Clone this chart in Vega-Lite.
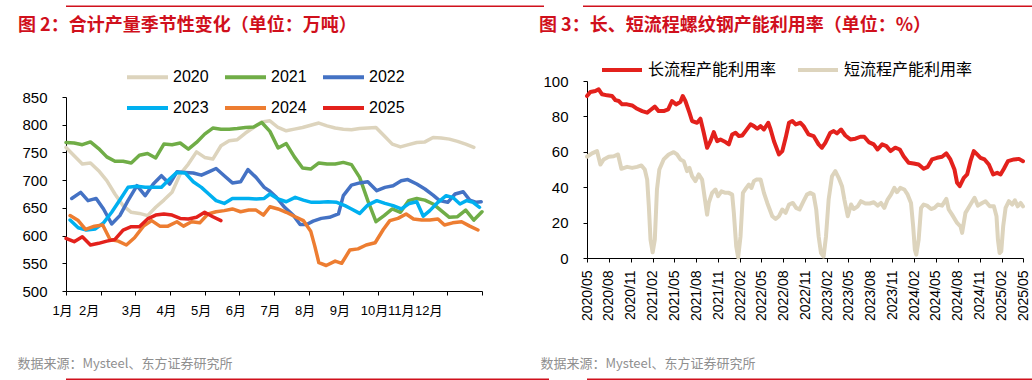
{
"$schema": "https://vega.github.io/schema/vega-lite/v6.json",
"padding": {"left": 17, "top": 5.5, "right": 0, "bottom": 0},
"spacing": 8.5,
"background": "white",
"config": {
  "view": {"stroke": null},
  "axis": {"grid": false, "domainColor": "#000", "tickColor": "#000", "labelColor": "#000", "labelFont": "Liberation Sans, Noto Sans CJK SC", "domainWidth": 1, "tickWidth": 1},
  "title": {"font": "Noto Sans CJK SC", "fontWeight": "bold", "fontSize": 18, "color": "#D0101C"}
},
"datasets": {
  "empty": [],
  "seasonal": [
    {"year":"2020","wk":1,"v":759},{"year":"2020","wk":2,"v":744},{"year":"2020","wk":3,"v":729},{"year":"2020","wk":4,"v":731},{"year":"2020","wk":5,"v":717},{"year":"2020","wk":6,"v":699},{"year":"2020","wk":7,"v":675},{"year":"2020","wk":8,"v":654},{"year":"2020","wk":9,"v":642},{"year":"2020","wk":10,"v":640},{"year":"2020","wk":11,"v":636},{"year":"2020","wk":12,"v":651},{"year":"2020","wk":13,"v":664},{"year":"2020","wk":14,"v":678},{"year":"2020","wk":15,"v":711},{"year":"2020","wk":16,"v":729},{"year":"2020","wk":17,"v":751},{"year":"2020","wk":18,"v":741},{"year":"2020","wk":19,"v":738},{"year":"2020","wk":20,"v":762},{"year":"2020","wk":21,"v":771},{"year":"2020","wk":22,"v":773},{"year":"2020","wk":23,"v":785},{"year":"2020","wk":24,"v":795},{"year":"2020","wk":25,"v":805},{"year":"2020","wk":26,"v":807},{"year":"2020","wk":27,"v":795},{"year":"2020","wk":28,"v":789},{"year":"2020","wk":29,"v":792},{"year":"2020","wk":30,"v":795},{"year":"2020","wk":31,"v":799},{"year":"2020","wk":32,"v":803},{"year":"2020","wk":33,"v":798},{"year":"2020","wk":34,"v":794},{"year":"2020","wk":35,"v":792},{"year":"2020","wk":36,"v":791},{"year":"2020","wk":37,"v":793},{"year":"2020","wk":38,"v":794},{"year":"2020","wk":39,"v":795},{"year":"2020","wk":40,"v":780},{"year":"2020","wk":41,"v":765},{"year":"2020","wk":42,"v":760},{"year":"2020","wk":43,"v":764},{"year":"2020","wk":44,"v":768},{"year":"2020","wk":45,"v":769},{"year":"2020","wk":46,"v":777},{"year":"2020","wk":47,"v":776},{"year":"2020","wk":48,"v":774},{"year":"2020","wk":49,"v":770},{"year":"2020","wk":50,"v":765},{"year":"2020","wk":51,"v":759},
    {"year":"2021","wk":1,"v":768},{"year":"2021","wk":2,"v":767},{"year":"2021","wk":3,"v":764},{"year":"2021","wk":4,"v":769},{"year":"2021","wk":5,"v":757},{"year":"2021","wk":6,"v":742},{"year":"2021","wk":7,"v":734},{"year":"2021","wk":8,"v":734},{"year":"2021","wk":9,"v":731},{"year":"2021","wk":10,"v":745},{"year":"2021","wk":11,"v":748},{"year":"2021","wk":12,"v":740},{"year":"2021","wk":13,"v":765},{"year":"2021","wk":14,"v":764},{"year":"2021","wk":15,"v":767},{"year":"2021","wk":16,"v":756},{"year":"2021","wk":17,"v":768},{"year":"2021","wk":18,"v":783},{"year":"2021","wk":19,"v":794},{"year":"2021","wk":20,"v":792},{"year":"2021","wk":21,"v":792},{"year":"2021","wk":22,"v":793},{"year":"2021","wk":23,"v":795},{"year":"2021","wk":24,"v":796},{"year":"2021","wk":25,"v":804},{"year":"2021","wk":26,"v":788},{"year":"2021","wk":27,"v":758},{"year":"2021","wk":28,"v":766},{"year":"2021","wk":29,"v":742},{"year":"2021","wk":30,"v":722},{"year":"2021","wk":31,"v":720},{"year":"2021","wk":32,"v":731},{"year":"2021","wk":33,"v":729},{"year":"2021","wk":34,"v":729},{"year":"2021","wk":35,"v":732},{"year":"2021","wk":36,"v":728},{"year":"2021","wk":37,"v":705},{"year":"2021","wk":38,"v":663},{"year":"2021","wk":39,"v":625},{"year":"2021","wk":40,"v":636},{"year":"2021","wk":41,"v":648},{"year":"2021","wk":42,"v":642},{"year":"2021","wk":43,"v":663},{"year":"2021","wk":44,"v":667},{"year":"2021","wk":45,"v":664},{"year":"2021","wk":46,"v":657},{"year":"2021","wk":47,"v":645},{"year":"2021","wk":48,"v":633},{"year":"2021","wk":49,"v":634},{"year":"2021","wk":50,"v":646},{"year":"2021","wk":51,"v":628},{"year":"2021","wk":52,"v":643},
    {"year":"2022","wk":1.7,"v":667},{"year":"2022","wk":2.8,"v":678},{"year":"2022","wk":3.7,"v":663},{"year":"2022","wk":4.7,"v":667},{"year":"2022","wk":5.6,"v":648},{"year":"2022","wk":6.6,"v":621},{"year":"2022","wk":7.6,"v":636},{"year":"2022","wk":8.6,"v":663},{"year":"2022","wk":9.7,"v":690},{"year":"2022","wk":10.7,"v":672},{"year":"2022","wk":11.7,"v":693},{"year":"2022","wk":12.7,"v":708},{"year":"2022","wk":13.7,"v":693},{"year":"2022","wk":14.6,"v":715},{"year":"2022","wk":15.6,"v":714},{"year":"2022","wk":16.6,"v":713},{"year":"2022","wk":17.6,"v":709},{"year":"2022","wk":18.5,"v":715},{"year":"2022","wk":19.4,"v":721},{"year":"2022","wk":20.4,"v":708},{"year":"2022","wk":21.4,"v":695},{"year":"2022","wk":22.4,"v":697},{"year":"2022","wk":23.3,"v":719},{"year":"2022","wk":24.3,"v":705},{"year":"2022","wk":25.3,"v":687},{"year":"2022","wk":26,"v":680},{"year":"2022","wk":26.8,"v":669},{"year":"2022","wk":27.8,"v":651},{"year":"2022","wk":28.9,"v":636},{"year":"2022","wk":29.7,"v":620},{"year":"2022","wk":30.5,"v":620},{"year":"2022","wk":31.3,"v":626},{"year":"2022","wk":32.3,"v":631},{"year":"2022","wk":33.3,"v":633},{"year":"2022","wk":34.4,"v":639},{"year":"2022","wk":35,"v":672},{"year":"2022","wk":36,"v":691},{"year":"2022","wk":37,"v":695},{"year":"2022","wk":38,"v":697},{"year":"2022","wk":39.1,"v":681},{"year":"2022","wk":40.1,"v":687},{"year":"2022","wk":41.1,"v":690},{"year":"2022","wk":42.1,"v":699},{"year":"2022","wk":42.9,"v":701},{"year":"2022","wk":44,"v":693},{"year":"2022","wk":45,"v":684},{"year":"2022","wk":46,"v":673},{"year":"2022","wk":46.8,"v":663},{"year":"2022","wk":47.8,"v":660},{"year":"2022","wk":48.7,"v":675},{"year":"2022","wk":49.7,"v":679},{"year":"2022","wk":50.5,"v":664},{"year":"2022","wk":51.3,"v":660},{"year":"2022","wk":51.9,"v":661},
    {"year":"2023","wk":1.5,"v":628},{"year":"2023","wk":2.5,"v":614},{"year":"2023","wk":3.5,"v":610},{"year":"2023","wk":4.6,"v":612},{"year":"2023","wk":5.6,"v":623},{"year":"2023","wk":6.6,"v":642},{"year":"2023","wk":7.6,"v":664},{"year":"2023","wk":8.6,"v":687},{"year":"2023","wk":9.7,"v":689},{"year":"2023","wk":10.7,"v":687},{"year":"2023","wk":11.7,"v":687},{"year":"2023","wk":12.7,"v":687},{"year":"2023","wk":13.7,"v":702},{"year":"2023","wk":14.6,"v":714},{"year":"2023","wk":15.6,"v":713},{"year":"2023","wk":16.6,"v":697},{"year":"2023","wk":17.6,"v":687},{"year":"2023","wk":18.5,"v":675},{"year":"2023","wk":19.4,"v":663},{"year":"2023","wk":20.4,"v":658},{"year":"2023","wk":21.4,"v":667},{"year":"2023","wk":22.4,"v":667},{"year":"2023","wk":23.4,"v":667},{"year":"2023","wk":24.3,"v":666},{"year":"2023","wk":25.3,"v":667},{"year":"2023","wk":26,"v":675},{"year":"2023","wk":27,"v":666},{"year":"2023","wk":28,"v":661},{"year":"2023","wk":29.1,"v":669},{"year":"2023","wk":30.1,"v":664},{"year":"2023","wk":31.1,"v":660},{"year":"2023","wk":32.1,"v":660},{"year":"2023","wk":33.1,"v":661},{"year":"2023","wk":34.2,"v":660},{"year":"2023","wk":35.2,"v":654},{"year":"2023","wk":36,"v":648},{"year":"2023","wk":37,"v":640},{"year":"2023","wk":38,"v":655},{"year":"2023","wk":39.1,"v":663},{"year":"2023","wk":40.1,"v":658},{"year":"2023","wk":41.1,"v":654},{"year":"2023","wk":42.1,"v":648},{"year":"2023","wk":43.1,"v":658},{"year":"2023","wk":44,"v":661},{"year":"2023","wk":44.8,"v":635},{"year":"2023","wk":45.6,"v":645},{"year":"2023","wk":46.6,"v":660},{"year":"2023","wk":47.6,"v":672},{"year":"2023","wk":48.4,"v":669},{"year":"2023","wk":49.3,"v":657},{"year":"2023","wk":50.1,"v":663},{"year":"2023","wk":50.9,"v":660},{"year":"2023","wk":51.7,"v":651},
    {"year":"2024","wk":1.5,"v":636},{"year":"2024","wk":2.5,"v":627},{"year":"2024","wk":3.4,"v":611},{"year":"2024","wk":4.5,"v":617},{"year":"2024","wk":5.5,"v":619},{"year":"2024","wk":6.4,"v":593},{"year":"2024","wk":7.4,"v":590},{"year":"2024","wk":8.4,"v":583},{"year":"2024","wk":9.4,"v":596},{"year":"2024","wk":10.5,"v":617},{"year":"2024","wk":11.5,"v":627},{"year":"2024","wk":12.5,"v":617},{"year":"2024","wk":13.5,"v":617},{"year":"2024","wk":14.6,"v":625},{"year":"2024","wk":15.4,"v":617},{"year":"2024","wk":16.4,"v":625},{"year":"2024","wk":17.4,"v":623},{"year":"2024","wk":18.4,"v":639},{"year":"2024","wk":19.4,"v":643},{"year":"2024","wk":20.4,"v":645},{"year":"2024","wk":21.4,"v":648},{"year":"2024","wk":22.4,"v":643},{"year":"2024","wk":23.4,"v":646},{"year":"2024","wk":24.3,"v":646},{"year":"2024","wk":25.2,"v":637},{"year":"2024","wk":26,"v":652},{"year":"2024","wk":27,"v":648},{"year":"2024","wk":28,"v":642},{"year":"2024","wk":29.1,"v":634},{"year":"2024","wk":30.1,"v":627},{"year":"2024","wk":31,"v":608},{"year":"2024","wk":31.5,"v":581},{"year":"2024","wk":32,"v":551},{"year":"2024","wk":32.9,"v":546},{"year":"2024","wk":34,"v":554},{"year":"2024","wk":34.8,"v":550},{"year":"2024","wk":35.8,"v":574},{"year":"2024","wk":36.8,"v":576},{"year":"2024","wk":37.8,"v":583},{"year":"2024","wk":38.9,"v":587},{"year":"2024","wk":39.9,"v":611},{"year":"2024","wk":40.7,"v":627},{"year":"2024","wk":41.7,"v":631},{"year":"2024","wk":42.7,"v":639},{"year":"2024","wk":43.6,"v":630},{"year":"2024","wk":44.6,"v":628},{"year":"2024","wk":45.6,"v":628},{"year":"2024","wk":46.6,"v":630},{"year":"2024","wk":47.4,"v":619},{"year":"2024","wk":48.4,"v":623},{"year":"2024","wk":49.5,"v":625},{"year":"2024","wk":50.5,"v":617},{"year":"2024","wk":51.5,"v":610},
    {"year":"2025","wk":1,"v":595},{"year":"2025","wk":2,"v":589},{"year":"2025","wk":3,"v":598},{"year":"2025","wk":4,"v":583},{"year":"2025","wk":5,"v":586},{"year":"2025","wk":6,"v":590},{"year":"2025","wk":7,"v":593},{"year":"2025","wk":8,"v":610},{"year":"2025","wk":9,"v":616},{"year":"2025","wk":10,"v":616},{"year":"2025","wk":11,"v":630},{"year":"2025","wk":12,"v":637},{"year":"2025","wk":13,"v":639},{"year":"2025","wk":14,"v":637},{"year":"2025","wk":15,"v":631},{"year":"2025","wk":16,"v":630},{"year":"2025","wk":17,"v":633},{"year":"2025","wk":18,"v":642},{"year":"2025","wk":19,"v":634},{"year":"2025","wk":20,"v":627}
  ],
  "util": [
    {"s":"长流程产能利用率","d":"2020-05-01","v":91.5},{"s":"长流程产能利用率","d":"2020-05-15","v":93.8},{"s":"长流程产能利用率","d":"2020-06-05","v":94.3},{"s":"长流程产能利用率","d":"2020-06-19","v":95.3},{"s":"长流程产能利用率","d":"2020-07-03","v":92.5},{"s":"长流程产能利用率","d":"2020-07-24","v":91.9},{"s":"长流程产能利用率","d":"2020-08-14","v":91.5},{"s":"长流程产能利用率","d":"2020-08-28","v":89.2},{"s":"长流程产能利用率","d":"2020-09-11","v":88.7},{"s":"长流程产能利用率","d":"2020-09-25","v":86.8},{"s":"长流程产能利用率","d":"2020-10-16","v":86.8},{"s":"长流程产能利用率","d":"2020-11-06","v":86.2},{"s":"长流程产能利用率","d":"2020-11-27","v":84.3},{"s":"长流程产能利用率","d":"2020-12-18","v":83.0},{"s":"长流程产能利用率","d":"2021-01-08","v":82.1},{"s":"长流程产能利用率","d":"2021-01-22","v":83.6},{"s":"长流程产能利用率","d":"2021-02-09","v":85.5},{"s":"长流程产能利用率","d":"2021-02-25","v":83.0},{"s":"长流程产能利用率","d":"2021-03-18","v":83.0},{"s":"长流程产能利用率","d":"2021-04-06","v":84.0},{"s":"长流程产能利用率","d":"2021-04-22","v":88.7},{"s":"长流程产能利用率","d":"2021-05-09","v":86.8},{"s":"长流程产能利用率","d":"2021-05-27","v":88.1},{"s":"长流程产能利用率","d":"2021-06-06","v":91.5},{"s":"长流程产能利用率","d":"2021-06-17","v":88.7},{"s":"长流程产能利用率","d":"2021-07-04","v":82.1},{"s":"长流程产能利用率","d":"2021-07-15","v":77.4},{"s":"长流程产能利用率","d":"2021-08-05","v":76.4},{"s":"长流程产能利用率","d":"2021-08-19","v":78.7},{"s":"长流程产能利用率","d":"2021-09-02","v":70.8},{"s":"长流程产能利用率","d":"2021-09-16","v":62.3},{"s":"长流程产能利用率","d":"2021-09-30","v":66.0},{"s":"长流程产能利用率","d":"2021-10-14","v":71.1},{"s":"长流程产能利用率","d":"2021-10-28","v":66.0},{"s":"长流程产能利用率","d":"2021-11-11","v":67.0},{"s":"长流程产能利用率","d":"2021-12-02","v":65.5},{"s":"长流程产能利用率","d":"2021-12-16","v":64.2},{"s":"长流程产能利用率","d":"2021-12-30","v":69.8},{"s":"长流程产能利用率","d":"2022-01-13","v":70.8},{"s":"长流程产能利用率","d":"2022-01-27","v":68.9},{"s":"长流程产能利用率","d":"2022-02-10","v":69.2},{"s":"长流程产能利用率","d":"2022-02-24","v":71.7},{"s":"长流程产能利用率","d":"2022-03-17","v":75.5},{"s":"长流程产能利用率","d":"2022-03-31","v":74.5},{"s":"长流程产能利用率","d":"2022-04-14","v":73.0},{"s":"长流程产能利用率","d":"2022-04-28","v":74.5},{"s":"长流程产能利用率","d":"2022-05-12","v":72.6},{"s":"长流程产能利用率","d":"2022-05-30","v":76.4},{"s":"长流程产能利用率","d":"2022-06-09","v":72.6},{"s":"长流程产能利用率","d":"2022-06-23","v":66.0},{"s":"长流程产能利用率","d":"2022-07-14","v":58.5},{"s":"长流程产能利用率","d":"2022-07-28","v":60.4},{"s":"长流程产能利用率","d":"2022-08-11","v":67.9},{"s":"长流程产能利用率","d":"2022-08-25","v":76.4},{"s":"长流程产能利用率","d":"2022-09-08","v":77.4},{"s":"长流程产能利用率","d":"2022-09-22","v":75.5},{"s":"长流程产能利用率","d":"2022-10-12","v":76.4},{"s":"长流程产能利用率","d":"2022-10-25","v":74.5},{"s":"长流程产能利用率","d":"2022-11-15","v":69.8},{"s":"长流程产能利用率","d":"2022-12-06","v":68.9},{"s":"长流程产能利用率","d":"2022-12-27","v":64.2},{"s":"长流程产能利用率","d":"2023-01-10","v":62.3},{"s":"长流程产能利用率","d":"2023-01-24","v":65.1},{"s":"长流程产能利用率","d":"2023-02-14","v":70.8},{"s":"长流程产能利用率","d":"2023-02-28","v":71.7},{"s":"长流程产能利用率","d":"2023-03-14","v":70.4},{"s":"长流程产能利用率","d":"2023-03-31","v":72.6},{"s":"长流程产能利用率","d":"2023-04-18","v":69.2},{"s":"长流程产能利用率","d":"2023-05-09","v":67.0},{"s":"长流程产能利用率","d":"2023-05-30","v":67.4},{"s":"长流程产能利用率","d":"2023-06-20","v":68.5},{"s":"长流程产能利用率","d":"2023-07-06","v":68.5},{"s":"长流程产能利用率","d":"2023-07-25","v":65.5},{"s":"长流程产能利用率","d":"2023-08-15","v":64.2},{"s":"长流程产能利用率","d":"2023-08-31","v":61.3},{"s":"长流程产能利用率","d":"2023-09-19","v":64.2},{"s":"长流程产能利用率","d":"2023-10-07","v":63.2},{"s":"长流程产能利用率","d":"2023-10-24","v":60.4},{"s":"长流程产能利用率","d":"2023-11-13","v":62.3},{"s":"长流程产能利用率","d":"2023-12-02","v":61.3},{"s":"长流程产能利用率","d":"2023-12-18","v":57.5},{"s":"长流程产能利用率","d":"2024-01-08","v":53.8},{"s":"长流程产能利用率","d":"2024-01-29","v":53.4},{"s":"长流程产能利用率","d":"2024-02-19","v":52.8},{"s":"长流程产能利用率","d":"2024-03-11","v":50.4},{"s":"长流程产能利用率","d":"2024-03-28","v":51.5},{"s":"长流程产能利用率","d":"2024-04-15","v":55.7},{"s":"长流程产能利用率","d":"2024-05-06","v":56.6},{"s":"长流程产能利用率","d":"2024-05-27","v":57.2},{"s":"长流程产能利用率","d":"2024-06-14","v":59.1},{"s":"长流程产能利用率","d":"2024-07-01","v":55.7},{"s":"长流程产能利用率","d":"2024-07-18","v":50.0},{"s":"长流程产能利用率","d":"2024-07-29","v":42.5},{"s":"长流程产能利用率","d":"2024-08-09","v":40.6},{"s":"长流程产能利用率","d":"2024-08-26","v":45.3},{"s":"长流程产能利用率","d":"2024-09-09","v":47.2},{"s":"长流程产能利用率","d":"2024-09-23","v":54.7},{"s":"长流程产能利用率","d":"2024-10-07","v":60.4},{"s":"长流程产能利用率","d":"2024-10-21","v":58.5},{"s":"长流程产能利用率","d":"2024-11-04","v":56.6},{"s":"长流程产能利用率","d":"2024-11-21","v":55.7},{"s":"长流程产能利用率","d":"2024-12-09","v":52.8},{"s":"长流程产能利用率","d":"2024-12-27","v":47.2},{"s":"长流程产能利用率","d":"2025-01-13","v":48.1},{"s":"长流程产能利用率","d":"2025-01-27","v":47.2},{"s":"长流程产能利用率","d":"2025-02-10","v":50.4},{"s":"长流程产能利用率","d":"2025-02-27","v":54.7},{"s":"长流程产能利用率","d":"2025-03-24","v":55.7},{"s":"长流程产能利用率","d":"2025-04-14","v":56.0},{"s":"长流程产能利用率","d":"2025-05-01","v":54.7},
    {"s":"短流程产能利用率","d":"2020-05-01","v":57.2},{"s":"短流程产能利用率","d":"2020-05-22","v":59.1},{"s":"短流程产能利用率","d":"2020-06-12","v":60.4},{"s":"短流程产能利用率","d":"2020-06-26","v":52.8},{"s":"短流程产能利用率","d":"2020-07-10","v":55.7},{"s":"短流程产能利用率","d":"2020-07-31","v":57.2},{"s":"短流程产能利用率","d":"2020-08-21","v":57.5},{"s":"短流程产能利用率","d":"2020-09-08","v":58.5},{"s":"短流程产能利用率","d":"2020-09-22","v":50.4},{"s":"短流程产能利用率","d":"2020-10-16","v":51.5},{"s":"短流程产能利用率","d":"2020-11-06","v":50.9},{"s":"短流程产能利用率","d":"2020-11-27","v":51.5},{"s":"短流程产能利用率","d":"2020-12-15","v":52.3},{"s":"短流程产能利用率","d":"2020-12-29","v":50.0},{"s":"短流程产能利用率","d":"2021-01-08","v":44.3},{"s":"短流程产能利用率","d":"2021-01-15","v":29.2},{"s":"短流程产能利用率","d":"2021-01-22","v":10.4},{"s":"短流程产能利用率","d":"2021-01-31","v":3.2},{"s":"短流程产能利用率","d":"2021-02-09","v":10.4},{"s":"短流程产能利用率","d":"2021-02-18","v":38.7},{"s":"短流程产能利用率","d":"2021-02-28","v":50.0},{"s":"短流程产能利用率","d":"2021-03-18","v":55.7},{"s":"短流程产能利用率","d":"2021-04-08","v":58.5},{"s":"短流程产能利用率","d":"2021-04-29","v":59.8},{"s":"短流程产能利用率","d":"2021-05-13","v":58.5},{"s":"短流程产能利用率","d":"2021-05-27","v":55.7},{"s":"短流程产能利用率","d":"2021-06-10","v":54.7},{"s":"短流程产能利用率","d":"2021-06-24","v":49.1},{"s":"短流程产能利用率","d":"2021-07-04","v":50.9},{"s":"短流程产能利用率","d":"2021-07-15","v":46.2},{"s":"短流程产能利用率","d":"2021-07-29","v":43.4},{"s":"短流程产能利用率","d":"2021-08-12","v":47.2},{"s":"短流程产能利用率","d":"2021-08-26","v":44.3},{"s":"短流程产能利用率","d":"2021-09-09","v":31.1},{"s":"短流程产能利用率","d":"2021-09-16","v":24.5},{"s":"短流程产能利用率","d":"2021-09-23","v":31.1},{"s":"短流程产能利用率","d":"2021-10-07","v":36.8},{"s":"短流程产能利用率","d":"2021-10-21","v":38.7},{"s":"短流程产能利用率","d":"2021-11-01","v":34.9},{"s":"短流程产能利用率","d":"2021-11-15","v":37.7},{"s":"短流程产能利用率","d":"2021-12-02","v":36.8},{"s":"短流程产能利用率","d":"2021-12-16","v":36.8},{"s":"短流程产能利用率","d":"2021-12-30","v":35.8},{"s":"短流程产能利用率","d":"2022-01-06","v":25.5},{"s":"短流程产能利用率","d":"2022-01-16","v":6.6},{"s":"短流程产能利用率","d":"2022-01-24","v":0.3},{"s":"短流程产能利用率","d":"2022-02-03","v":12.3},{"s":"短流程产能利用率","d":"2022-02-13","v":36.8},{"s":"短流程产能利用率","d":"2022-02-27","v":39.6},{"s":"短流程产能利用率","d":"2022-03-10","v":41.5},{"s":"短流程产能利用率","d":"2022-03-21","v":39.6},{"s":"短流程产能利用率","d":"2022-03-31","v":43.4},{"s":"短流程产能利用率","d":"2022-04-10","v":44.3},{"s":"短流程产能利用率","d":"2022-04-28","v":44.3},{"s":"短流程产能利用率","d":"2022-05-12","v":36.8},{"s":"短流程产能利用率","d":"2022-05-26","v":31.1},{"s":"短流程产能利用率","d":"2022-06-16","v":23.6},{"s":"短流程产能利用率","d":"2022-06-30","v":22.1},{"s":"短流程产能利用率","d":"2022-07-14","v":23.6},{"s":"短流程产能利用率","d":"2022-07-28","v":27.4},{"s":"短流程产能利用率","d":"2022-08-11","v":25.5},{"s":"短流程产能利用率","d":"2022-08-25","v":30.2},{"s":"短流程产能利用率","d":"2022-09-10","v":31.1},{"s":"短流程产能利用率","d":"2022-09-24","v":28.3},{"s":"短流程产能利用率","d":"2022-10-08","v":27.4},{"s":"短流程产能利用率","d":"2022-10-25","v":32.1},{"s":"短流程产能利用率","d":"2022-11-08","v":35.8},{"s":"短流程产能利用率","d":"2022-11-22","v":36.8},{"s":"短流程产能利用率","d":"2022-12-06","v":35.8},{"s":"短流程产能利用率","d":"2022-12-17","v":27.4},{"s":"短流程产能利用率","d":"2022-12-27","v":12.3},{"s":"短流程产能利用率","d":"2023-01-06","v":2.8},{"s":"短流程产能利用率","d":"2023-01-17","v":0.9},{"s":"短流程产能利用率","d":"2023-01-27","v":12.3},{"s":"短流程产能利用率","d":"2023-02-07","v":33.0},{"s":"短流程产能利用率","d":"2023-02-21","v":46.2},{"s":"短流程产能利用率","d":"2023-03-07","v":49.1},{"s":"短流程产能利用率","d":"2023-03-21","v":45.3},{"s":"短流程产能利用率","d":"2023-04-04","v":40.6},{"s":"短流程产能利用率","d":"2023-04-14","v":33.0},{"s":"短流程产能利用率","d":"2023-04-28","v":23.6},{"s":"短流程产能利用率","d":"2023-05-12","v":30.2},{"s":"短流程产能利用率","d":"2023-05-23","v":27.7},{"s":"短流程产能利用率","d":"2023-06-09","v":29.2},{"s":"短流程产能利用率","d":"2023-06-22","v":32.1},{"s":"短流程产能利用率","d":"2023-07-11","v":30.8},{"s":"短流程产能利用率","d":"2023-07-29","v":30.8},{"s":"短流程产能利用率","d":"2023-08-15","v":31.5},{"s":"短流程产能利用率","d":"2023-08-31","v":29.6},{"s":"短流程产能利用率","d":"2023-09-14","v":31.1},{"s":"短流程产能利用率","d":"2023-09-28","v":28.3},{"s":"短流程产能利用率","d":"2023-10-12","v":33.0},{"s":"短流程产能利用率","d":"2023-10-26","v":35.8},{"s":"短流程产能利用率","d":"2023-11-09","v":39.6},{"s":"短流程产能利用率","d":"2023-11-20","v":37.2},{"s":"短流程产能利用率","d":"2023-12-04","v":39.6},{"s":"短流程产能利用率","d":"2023-12-21","v":38.7},{"s":"短流程产能利用率","d":"2024-01-04","v":35.8},{"s":"短流程产能利用率","d":"2024-01-18","v":31.1},{"s":"短流程产能利用率","d":"2024-01-27","v":17.9},{"s":"短流程产能利用率","d":"2024-02-03","v":4.7},{"s":"短流程产能利用率","d":"2024-02-09","v":1.9},{"s":"短流程产能利用率","d":"2024-02-19","v":10.4},{"s":"短流程产能利用率","d":"2024-02-29","v":28.3},{"s":"短流程产能利用率","d":"2024-03-11","v":30.2},{"s":"短流程产能利用率","d":"2024-03-25","v":29.6},{"s":"短流程产能利用率","d":"2024-04-11","v":27.7},{"s":"短流程产能利用率","d":"2024-04-25","v":28.3},{"s":"短流程产能利用率","d":"2024-05-09","v":30.2},{"s":"短流程产能利用率","d":"2024-05-27","v":29.6},{"s":"短流程产能利用率","d":"2024-06-14","v":33.4},{"s":"短流程产能利用率","d":"2024-06-24","v":27.4},{"s":"短流程产能利用率","d":"2024-07-08","v":24.5},{"s":"短流程产能利用率","d":"2024-07-29","v":19.8},{"s":"短流程产能利用率","d":"2024-08-12","v":17.9},{"s":"短流程产能利用率","d":"2024-08-19","v":14.2},{"s":"短流程产能利用率","d":"2024-09-02","v":25.5},{"s":"短流程产能利用率","d":"2024-09-23","v":30.2},{"s":"短流程产能利用率","d":"2024-10-10","v":34.0},{"s":"短流程产能利用率","d":"2024-10-24","v":29.6},{"s":"短流程产能利用率","d":"2024-11-11","v":31.1},{"s":"短流程产能利用率","d":"2024-11-25","v":32.1},{"s":"短流程产能利用率","d":"2024-12-13","v":29.2},{"s":"短流程产能利用率","d":"2024-12-30","v":29.2},{"s":"短流程产能利用率","d":"2025-01-10","v":23.6},{"s":"短流程产能利用率","d":"2025-01-16","v":10.4},{"s":"短流程产能利用率","d":"2025-01-23","v":2.8},{"s":"短流程产能利用率","d":"2025-01-30","v":3.8},{"s":"短流程产能利用率","d":"2025-02-07","v":17.9},{"s":"短流程产能利用率","d":"2025-02-17","v":28.3},{"s":"短流程产能利用率","d":"2025-03-03","v":32.1},{"s":"短流程产能利用率","d":"2025-03-17","v":30.2},{"s":"短流程产能利用率","d":"2025-03-28","v":32.6},{"s":"短流程产能利用率","d":"2025-04-09","v":29.2},{"s":"短流程产能利用率","d":"2025-04-21","v":31.1},{"s":"短流程产能利用率","d":"2025-05-01","v":29.2}
  ]
},
"vconcat": [
  {
    "spacing": 39,
    "hconcat": [
      {"width": 478, "height": 1.5, "view": {"fill": "#D0101C", "stroke": null}, "data": {"name": "empty"}, "mark": "point"},
      {"width": 484, "height": 1.5, "view": {"fill": "#D0101C", "stroke": null}, "data": {"name": "empty"}, "mark": "point"}
    ]
  },
  {
    "spacing": 55,
    "resolve": {"scale": {"color": "independent", "x": "independent", "y": "independent"}, "legend": {"color": "independent"}},
    "hconcat": [
      {
        "width": 416, "height": 194,
        "title": {"text": "图 2：合计产量季节性变化（单位：万吨）", "anchor": "start", "frame": "group", "dx": -48, "offset": 20},
        "data": {"name": "seasonal"},
        "mark": {"type": "line", "strokeWidth": 3.5, "strokeJoin": "round", "strokeCap": "round"},
        "encoding": {
          "x": {"field": "wk", "type": "quantitative", "scale": {"domain": [1, 52], "nice": false, "zero": false},
            "axis": {"values": [1, 5.25, 9.5, 13.75, 18, 22.25, 26.5, 30.75, 35, 39.25, 43.5, 47.75, 52],
              "labelExpr": "datum.value >= 51 ? '' : (round((datum.value - 1) / 4.25) + 1) + '月'",
              "labelFontSize": 13,
              "labelOffset": {"condition": [{"test": "datum.value == 5.25", "value": -12}, {"test": "datum.value == 43.5", "value": -12}, {"test": "datum.value == 47.75", "value": -19}], "value": -4},
              "labelFlush": false, "labelOverlap": false, "tickSize": 4, "labelPadding": 9,
              "title": "数据来源：Mysteel、东方证券研究所", "titleX": -49, "titleY": 72, "titleAlign": "left", "titleAnchor": "start", "titleBaseline": "middle",
              "titleFontSize": 13, "titleFontWeight": "normal", "titleColor": "#8f8f8f", "titleFont": "Noto Sans CJK SC"}},
          "y": {"field": "v", "type": "quantitative", "scale": {"domain": [500, 850], "nice": false, "zero": false},
            "axis": {"values": [500, 550, 600, 650, 700, 750, 800, 850], "labelFontSize": 15, "tickSize": 4, "labelPadding": 15, "title": null}},
          "color": {"field": "year", "type": "nominal",
            "scale": {"domain": ["2020", "2021", "2022", "2023", "2024", "2025"], "range": ["#DDD4BD", "#70AD47", "#4472C4", "#00B0F0", "#ED7D31", "#E3211C"]},
            "legend": {"orient": "none", "legendX": 59, "legendY": -42.5, "direction": "horizontal", "columns": 3, "title": null,
              "symbolType": "stroke", "symbolSize": 1681, "symbolStrokeWidth": 4, "labelFontSize": 16, "labelFont": "Liberation Sans", "labelColor": "#000",
              "labelOffset": 3, "columnPadding": 8, "rowPadding": -12.5, "padding": 0}}
        }
      },
      {
        "width": 436, "height": 161,
        "title": {"text": "图 3：长、短流程螺纹钢产能利用率（单位：%）", "anchor": "start", "frame": "group", "dx": -48, "offset": 13.5},
        "data": {"name": "util"},
        "mark": {"type": "line", "strokeWidth": 4, "strokeJoin": "round", "strokeCap": "round"},
        "encoding": {
          "x": {"field": "d", "type": "temporal",
            "scale": {"type": "utc", "domain": [{"year": 2020, "month": 5, "date": 1, "utc": true}, {"year": 2025, "month": 5, "date": 1, "utc": true}], "nice": false},
            "axis": {"values": [
                {"year": 2020, "month": 5, "date": 1, "utc": true}, {"year": 2020, "month": 8, "date": 1, "utc": true}, {"year": 2020, "month": 11, "date": 1, "utc": true},
                {"year": 2021, "month": 2, "date": 1, "utc": true}, {"year": 2021, "month": 5, "date": 1, "utc": true}, {"year": 2021, "month": 8, "date": 1, "utc": true}, {"year": 2021, "month": 11, "date": 1, "utc": true},
                {"year": 2022, "month": 2, "date": 1, "utc": true}, {"year": 2022, "month": 5, "date": 1, "utc": true}, {"year": 2022, "month": 8, "date": 1, "utc": true}, {"year": 2022, "month": 11, "date": 1, "utc": true},
                {"year": 2023, "month": 2, "date": 1, "utc": true}, {"year": 2023, "month": 5, "date": 1, "utc": true}, {"year": 2023, "month": 8, "date": 1, "utc": true}, {"year": 2023, "month": 11, "date": 1, "utc": true},
                {"year": 2024, "month": 2, "date": 1, "utc": true}, {"year": 2024, "month": 5, "date": 1, "utc": true}, {"year": 2024, "month": 8, "date": 1, "utc": true}, {"year": 2024, "month": 11, "date": 1, "utc": true},
                {"year": 2025, "month": 2, "date": 1, "utc": true}, {"year": 2025, "month": 5, "date": 1, "utc": true}],
              "format": "%Y/%m", "labelAngle": -90, "labelFontSize": 14, "labelFlush": false, "labelOverlap": false, "tickSize": 4, "labelPadding": 8,
              "title": "数据来源：Mysteel、东方证券研究所", "titleX": -47, "titleY": 105, "titleAlign": "left", "titleAnchor": "start", "titleBaseline": "middle",
              "titleFontSize": 13, "titleFontWeight": "normal", "titleColor": "#8f8f8f", "titleFont": "Noto Sans CJK SC"}},
          "y": {"field": "v", "type": "quantitative", "scale": {"domain": [0, 100], "nice": false, "range": [161, -16]},
            "axis": {"values": [0, 20, 40, 60, 80, 100], "labelFontSize": 15, "tickSize": 4, "labelPadding": 15, "title": null}},
          "color": {"field": "s", "type": "nominal",
            "scale": {"domain": ["长流程产能利用率", "短流程产能利用率"], "range": ["#E3211C", "#DDD4BD"]},
            "legend": {"orient": "none", "legendX": 13, "legendY": -49, "direction": "horizontal", "columns": 2, "title": null,
              "symbolType": "stroke", "symbolSize": 1600, "symbolStrokeWidth": 4, "labelFontSize": 16, "labelFont": "Noto Sans CJK SC", "labelColor": "#000",
              "labelOffset": 4, "columnPadding": 13, "padding": 0}}
        }
      }
    ]
  },
  {
    "spacing": 38,
    "hconcat": [
      {"width": 483, "height": 1.5, "view": {"fill": "#D0101C", "stroke": null}, "data": {"name": "empty"}, "mark": "point"},
      {"width": 489, "height": 1.5, "view": {"fill": "#D0101C", "stroke": null}, "data": {"name": "empty"}, "mark": "point"}
    ]
  }
]
}
